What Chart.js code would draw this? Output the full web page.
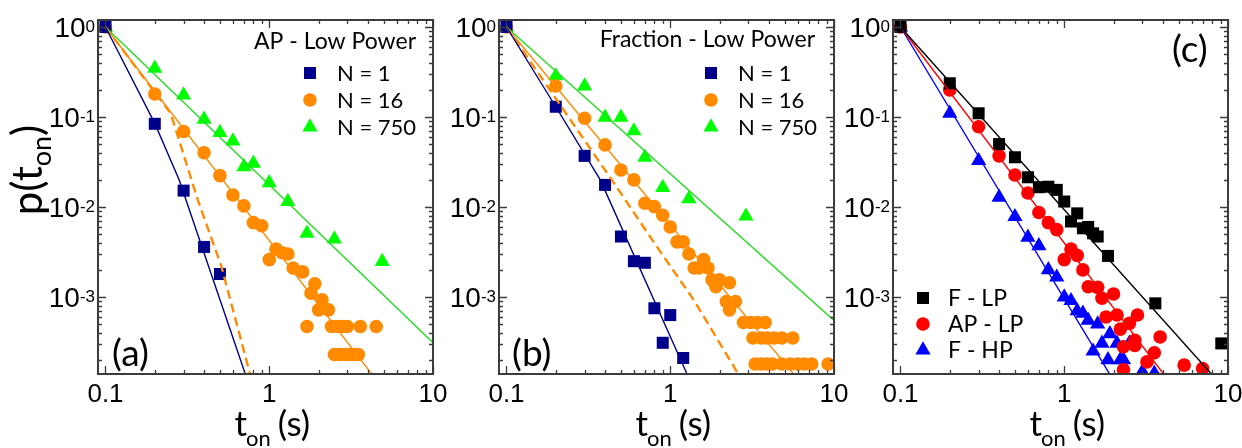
<!DOCTYPE html>
<html><head><meta charset="utf-8">
<script src="https://cdn.jsdelivr.net/npm/chart.js@4/dist/chart.umd.min.js"></script>
<style>
html,body{margin:0;padding:0;background:#fff;}
body{width:1242px;height:448px;position:relative;overflow:hidden;}
canvas{position:absolute;left:0;top:0;}
</style></head><body>
<canvas id="ca" width="1242" height="448"></canvas>
<canvas id="cb" width="1242" height="448"></canvas>
<canvas id="cc" width="1242" height="448"></canvas>
<script>
// ---------- tick labels ----------
const xTickValues = [0.1, 1, 10];
const xTickLabels = ['0.1', '1', '10'];
const yTickExps = [0, -1, -2, -3];

// ---------- Panel (a): AP - Low Power ----------
const tA_N1 = [0.1, 0.2, 0.3, 0.4, 0.5];
const pA_N1 = [1, 0.084, 0.0152, 0.0036, 0.0018];
const tA_N16 = [0.1, 0.2, 0.3, 0.4, 0.5, 0.6, 0.7, 0.8, 0.9, 1.0, 1.1, 1.2, 1.3, 1.4, 1.6, 1.7, 1.8, 1.9, 2.0, 2.1, 2.3,
  2.4, 2.6, 2.8, 3.0, 3.6, 4.5, 2.5, 2.7, 2.9, 3.1, 3.3, 3.5];
const pA_N16 = [1, 0.18, 0.069, 0.040, 0.0223, 0.0136, 0.0103, 0.0067, 0.0062, 0.0026, 0.0034, 0.0031, 0.0030, 0.0021, 0.0019, 0.00047, 0.0011, 0.0014, 0.00072, 0.00093, 0.00072,
  0.00047, 0.00047, 0.00047, 0.00047, 0.00047, 0.00047, 0.00023, 0.00023, 0.00023, 0.00023, 0.00023, 0.00023];
const tA_N750 = [0.1, 0.2, 0.3, 0.4, 0.5, 0.6, 0.7, 0.8, 1.0, 1.3, 1.7, 2.5, 4.9];
const pA_N750 = [1, 0.347, 0.175, 0.094, 0.067, 0.054, 0.028, 0.0306, 0.0186, 0.0115, 0.0051, 0.0044, 0.00247];
const tA_fitN1 = [0.1, 0.2, 0.282, 0.448, 0.71, 0.75];
const pA_fitN1 = [1, 0.085, 0.02, 0.00168, 0.000144, 0.000107];
const tA_fitN16 = [0.1, 4.5];
const pA_fitN16 = [1, 0.00012];
const tA_fitN750 = [0.1, 10];
const pA_fitN750 = [1, 0.00031];
const tA_dash = [0.1, 0.25, 0.366, 0.51, 0.76, 0.8];
const pA_dash = [1, 0.11, 0.012, 0.0022, 0.000144, 0.00009];

// ---------- Panel (b): Fraction - Low Power ----------
const tB_N1 = [0.1, 0.2, 0.3, 0.4, 0.5, 0.6, 0.7, 0.8, 0.9, 1.0, 1.2];
const pB_N1 = [1, 0.13, 0.037, 0.0176, 0.0047, 0.0025, 0.0024, 0.00075, 0.00031, 0.00063, 0.00021];
const tB_N16 = [0.1, 0.2, 0.3, 0.4, 0.5, 0.6, 0.7, 0.8, 0.9, 1.0, 1.1, 1.2, 1.3, 1.4, 1.5, 1.6, 1.7, 1.8, 1.9, 2.0, 2.2, 2.3, 2.3, 2.5,
  2.8, 3.1, 3.4, 3.8, 3.2, 3.6, 3.9, 4.3, 4.8, 5.6, 3.3, 3.6, 3.9, 4.2, 4.8, 5.4, 6.0, 6.6, 7.3, 9.2];
const pB_N16 = [1, 0.221, 0.097, 0.049, 0.0258, 0.020, 0.011, 0.0101, 0.0081, 0.0060, 0.0041, 0.0041, 0.0030, 0.0021, 0.0021, 0.0026, 0.0021, 0.00155, 0.0013, 0.00155, 0.00089, 0.00144, 0.00072, 0.00089,
  0.00052, 0.00052, 0.00052, 0.00052, 0.00035, 0.00035, 0.00035, 0.00035, 0.00035, 0.00035, 0.00018, 0.00018, 0.00018, 0.00018, 0.00018, 0.00018, 0.00018, 0.00018, 0.00018, 0.00018];
const tB_N750 = [0.1, 0.2, 0.3, 0.4, 0.5, 0.6, 0.7, 0.9, 1.3, 2.9];
const pB_N750 = [1, 0.286, 0.221, 0.099, 0.099, 0.070, 0.0357, 0.0164, 0.0123, 0.0079];
const tB_fitN1 = [0.1, 0.2, 0.374, 1.26, 1.35];
const pB_fitN1 = [1, 0.13, 0.02, 0.000142, 0.000107];
const tB_fitN16 = [0.1, 6.0];
const pB_fitN16 = [1, 0.000123];
const tB_fitN750 = [0.1, 10];
const pB_fitN750 = [1, 0.00055];
const tB_dash = [0.1, 0.44, 0.83, 1.39, 2.55, 2.7];
const pB_dash = [1, 0.02, 0.0036, 0.00093, 0.000148, 0.00011];

// ---------- Panel (c) ----------
const tC_FLP = [0.1, 0.2, 0.3, 0.4, 0.5, 0.6, 0.7, 0.8, 0.9, 1.0, 1.1, 1.2, 1.3, 1.4, 1.5, 1.6, 1.85, 3.6, 9.1];
const pC_FLP = [1, 0.237, 0.11, 0.05, 0.0357, 0.0214, 0.0166, 0.0168, 0.0155, 0.0115, 0.0069, 0.0085, 0.0058, 0.0060, 0.0051, 0.0047, 0.00286, 0.00085, 0.000305];
const tC_APLP = [0.1, 0.2, 0.3, 0.4, 0.5, 0.6, 0.7, 0.8, 0.9, 1.0, 1.1, 1.2, 1.3, 1.4, 1.6, 1.7, 2.0, 1.8, 2.1, 2.8, 2.5, 2.2, 2.7, 2.7, 3.85, 2.3, 3.55, 3.2, 2.3, 5.4, 7.0];
const pC_APLP = [1, 0.2, 0.078, 0.037, 0.0227, 0.0143, 0.0087, 0.0067, 0.0056, 0.0026, 0.0034, 0.0029, 0.0020, 0.0013, 0.00128, 0.00097, 0.00108, 0.0006, 0.00063, 0.00063, 0.00051, 0.00044, 0.00033, 0.00029, 0.00036, 0.00028, 0.00024, 0.00019, 0.000155, 0.000175, 0.00016];
const tC_FHP = [0.1, 0.2, 0.3, 0.4, 0.5, 0.6, 0.7, 0.8, 0.9, 1.0, 1.1, 1.2, 1.3, 1.4, 1.6, 1.9, 1.7, 2.1, 2.5, 1.5, 1.85, 2.2, 2.3, 3.0, 3.55];
const pC_FHP = [1, 0.11, 0.0327, 0.0128, 0.0078, 0.0046, 0.0037, 0.0020, 0.00166, 0.0010, 0.00091, 0.0007, 0.00066, 0.00055, 0.0005, 0.00039, 0.000305, 0.000305, 0.000305, 0.00025, 0.0002, 0.0002, 0.0002, 0.000148, 0.000142];
const tC_fitFLP = [0.1, 8.5];
const pC_fitFLP = [1, 0.000121];
const tC_fitAPLP = [0.1, 4.5];
const pC_fitAPLP = [1, 0.000108];
const tC_fitFHP = [0.1, 2.0];
const pC_fitFHP = [1, 0.000118];

// ---------- colours ----------
const NAVY = '#00008B', ORANGE = '#FF8A00', GREEN = '#00FF00', GREENLINE = '#22DD22';
const BLACK = '#000000', RED = '#FF0000', BLUE = '#0000FF';

// ---------- axis ranges ----------
const X_MIN = Math.pow(10, -1 - 7.5 / 164), X_MAX = 10;
const Y_MIN = Math.pow(10, -347 / 90), Y_MAX = Math.pow(10, 7 / 90);

const LABEL_FONT = 'Lato, "Open Sans", sans-serif';
const TICK_FONT = '"Liberation Sans", Arial, sans-serif';

const pts = (t, p) => t.map((v, i) => ({x: v, y: p[i]}));
function markers(t, p, style, color, r) {
  return {data: pts(t, p), pointStyle: style, pointRadius: r, pointHoverRadius: r,
    pointBackgroundColor: color, pointBorderColor: color, pointBorderWidth: 0, showLine: false, order: 2};
}
function fitLine(t, p, color, w, dash) {
  return {data: pts(t, p), showLine: true, pointRadius: 0, pointHoverRadius: 0, borderColor: color,
    borderWidth: w, borderDash: dash || [], order: 1, tension: 0, fill: false};
}

function drawMarker(ctx, style, x, y, r, color) {
  ctx.fillStyle = color;
  ctx.beginPath();
  if (style === 'rect') { const s = Math.SQRT1_2 * r; ctx.rect(x - s, y - s, 2 * s, 2 * s); }
  else if (style === 'circle') { ctx.arc(x, y, r, 0, Math.PI * 2); }
  else if (style === 'triangle') {
    let a = 0; ctx.moveTo(x + Math.sin(a) * r, y - Math.cos(a) * r);
    a += 2 * Math.PI / 3; ctx.lineTo(x + Math.sin(a) * r, y - Math.cos(a) * r);
    a += 2 * Math.PI / 3; ctx.lineTo(x + Math.sin(a) * r, y - Math.cos(a) * r);
    ctx.closePath();
  }
  ctx.fill();
}

function decorPlugin(cfg) {
  return {
    id: 'decor',
    afterDraw(chart) {
      const {ctx, chartArea: a, scales: {x, y}} = chart;
      ctx.save();
      // frame
      ctx.strokeStyle = '#3c3c3c'; ctx.lineWidth = 2;
      ctx.strokeRect(a.left, a.top, a.right - a.left, a.bottom - a.top);
      // ticks (inward, all four sides)
      ctx.lineWidth = 1.3; ctx.strokeStyle = '#3c3c3c';
      ctx.beginPath();
      for (let e = -2; e <= 1; e++) for (let m = 1; m < 10; m++) {
        const v = m * Math.pow(10, e);
        if (v < X_MIN * 1.001 || v > X_MAX * 1.0001) continue;
        const px = Math.round(x.getPixelForValue(v)) + 0.5, L = m === 1 ? 8 : 4;
        ctx.moveTo(px, a.bottom); ctx.lineTo(px, a.bottom - L);
        ctx.moveTo(px, a.top); ctx.lineTo(px, a.top + L);
      }
      for (let e = -4; e <= 0; e++) for (let m = 1; m < 10; m++) {
        const v = m * Math.pow(10, e);
        if (v < Y_MIN || v > Y_MAX) continue;
        const py = Math.round(y.getPixelForValue(v)) + 0.5, L = m === 1 ? 8 : 4;
        ctx.moveTo(a.left, py); ctx.lineTo(a.left + L, py);
        ctx.moveTo(a.right, py); ctx.lineTo(a.right - L, py);
      }
      ctx.stroke();
      // x tick labels
      ctx.fillStyle = '#000';
      ctx.font = '26px ' + TICK_FONT; ctx.textAlign = 'center'; ctx.textBaseline = 'alphabetic';
      xTickValues.forEach((v, i) => ctx.fillText(xTickLabels[i], x.getPixelForValue(v), a.bottom + 28));
      // y tick labels 10^e
      yTickExps.forEach(e => {
        const py = y.getPixelForValue(Math.pow(10, e));
        const ex = String(e);
        ctx.font = '17px ' + TICK_FONT; const w2 = ctx.measureText(ex).width;
        ctx.font = '28px ' + TICK_FONT; const w1 = ctx.measureText('10').width;
        const R = a.left - 3;
        ctx.textAlign = 'left';
        ctx.fillText('10', R - w2 - w1, py + 10);
        ctx.font = '17px ' + TICK_FONT;
        ctx.fillText(ex, R - w2, py + 4.5);
      });
      // x title t_on (s)
      const big = '35px ' + LABEL_FONT, small = '22px ' + LABEL_FONT;
      ctx.font = big; const wt = ctx.measureText('t').width, ws = ctx.measureText('(s)').width;
      ctx.font = small; const wo = ctx.measureText('on').width;
      const gap = 6;
      let sx = x.getPixelForValue(1) + 3 - (wt + wo + gap + ws) / 2;
      const by = a.bottom + 62;
      ctx.textAlign = 'left';
      ctx.font = big; ctx.fillText('t', sx, by);
      ctx.font = small; ctx.fillText('on', sx + wt - 1, by + 10);
      ctx.font = big; ctx.fillText('(s)', sx + wt + wo + gap, by);
      // y title
      if (cfg.yTitle) {
        ctx.save();
        ctx.translate(30, 170); ctx.rotate(-Math.PI / 2);
        const yb = '42px ' + LABEL_FONT, ys = '27px ' + LABEL_FONT;
        ctx.font = yb; const w1 = ctx.measureText('p(t').width, w3 = ctx.measureText(')').width;
        ctx.font = ys; const w2 = ctx.measureText('on').width;
        let s = -(w1 + w2 + w3) / 2;
        ctx.font = yb; ctx.fillText('p(t', s, 12);
        ctx.font = ys; ctx.fillText('on', s + w1, 21);
        ctx.font = yb; ctx.fillText(')', s + w1 + w2, 12);
        ctx.restore();
      }
      // panel label
      ctx.font = '37px ' + LABEL_FONT; ctx.textAlign = 'left';
      ctx.fillText(cfg.label, cfg.labelX, cfg.labelY);
      // legend
      const L = cfg.legend;
      if (L.title) {
        ctx.font = '23px ' + LABEL_FONT; ctx.textAlign = 'right'; ctx.textBaseline = 'middle';
        ctx.fillText(L.title, L.titleRight, L.titleY);
      }
      ctx.font = L.font + 'px ' + LABEL_FONT; ctx.textAlign = 'left'; ctx.textBaseline = 'middle';
      L.items.forEach((it, i) => {
        const yy = L.rows[i];
        drawMarker(ctx, it.style, L.markerX, yy, it.r, it.color);
        ctx.fillStyle = '#000';
        ctx.fillText(it.text, L.textX, yy + 1);
      });
      ctx.restore();
    }
  };
}

function makeChart(id, areaLeft, areaRight, datasets, cfg) {
  const yW = 40;
  return new Chart(document.getElementById(id), {
    type: 'scatter',
    data: {datasets},
    options: {
      responsive: false, animation: false, events: [], devicePixelRatio: 1,
      layout: {padding: {top: 20, left: areaLeft - yW, right: 1242 - areaRight, bottom: 0}},
      plugins: {legend: {display: false}, tooltip: {enabled: false}},
      scales: {
        x: {type: 'logarithmic', min: X_MIN, max: X_MAX, grid: {display: false}, border: {display: false},
            ticks: {display: false}, afterFit(s) { s.height = 74; }},
        y: {type: 'logarithmic', min: Y_MIN, max: Y_MAX, grid: {display: false}, border: {display: false},
            ticks: {display: false}, afterFit(s) { s.width = yW; }}
      }
    },
    plugins: [decorPlugin(cfg)]
  });
}

const R_SQ = 8.5, R_CI = 6.8, R_TR = 8.8;
const DASH = [9, 5];

makeChart('ca', 98, 433, [
  markers(tA_N1, pA_N1, 'rect', NAVY, R_SQ),
  markers(tA_N16, pA_N16, 'circle', ORANGE, R_CI),
  markers(tA_N750, pA_N750, 'triangle', GREEN, R_TR),
  fitLine(tA_fitN1, pA_fitN1, NAVY, 1.4),
  fitLine(tA_fitN16, pA_fitN16, ORANGE, 1.4),
  fitLine(tA_fitN750, pA_fitN750, GREENLINE, 1.4),
  fitLine(tA_dash, pA_dash, ORANGE, 2.4, DASH)
], {yTitle: true, label: '(a)', labelX: 112, labelY: 366,
  legend: {title: 'AP - Low Power', titleRight: 416, titleY: 42, font: 22, markerX: 310, textX: 337, rows: [73, 100, 127],
    items: [{style: 'rect', r: R_SQ, color: NAVY, text: 'N = 1'}, {style: 'circle', r: R_CI, color: ORANGE, text: 'N = 16'},
      {style: 'triangle', r: R_TR, color: GREEN, text: 'N = 750'}]}});

makeChart('cb', 499, 834, [
  markers(tB_N1, pB_N1, 'rect', NAVY, R_SQ),
  markers(tB_N16, pB_N16, 'circle', ORANGE, R_CI),
  markers(tB_N750, pB_N750, 'triangle', GREEN, R_TR),
  fitLine(tB_fitN1, pB_fitN1, NAVY, 1.4),
  fitLine(tB_fitN16, pB_fitN16, ORANGE, 1.4),
  fitLine(tB_fitN750, pB_fitN750, GREENLINE, 1.4),
  fitLine(tB_dash, pB_dash, ORANGE, 2.4, DASH)
], {yTitle: false, label: '(b)', labelX: 512, labelY: 366,
  legend: {title: 'Fraction - Low Power', titleRight: 815, titleY: 40, font: 22, markerX: 711, textX: 738, rows: [73, 100, 127],
    items: [{style: 'rect', r: R_SQ, color: NAVY, text: 'N = 1'}, {style: 'circle', r: R_CI, color: ORANGE, text: 'N = 16'},
      {style: 'triangle', r: R_TR, color: GREEN, text: 'N = 750'}]}});

makeChart('cc', 893, 1228, [
  markers(tC_FLP, pC_FLP, 'rect', BLACK, R_SQ),
  markers(tC_APLP, pC_APLP, 'circle', RED, R_CI),
  markers(tC_FHP, pC_FHP, 'triangle', BLUE, R_TR),
  fitLine(tC_fitFLP, pC_fitFLP, BLACK, 1.4),
  fitLine(tC_fitAPLP, pC_fitAPLP, RED, 1.4),
  fitLine(tC_fitFHP, pC_fitFHP, BLUE, 1.4)
], {yTitle: false, label: '(c)', labelX: 1172, labelY: 62,
  legend: {title: '', font: 23, markerX: 923, textX: 948, rows: [298, 324, 350],
    items: [{style: 'rect', r: R_SQ, color: BLACK, text: 'F - LP'}, {style: 'circle', r: R_CI, color: RED, text: 'AP - LP'},
      {style: 'triangle', r: R_TR, color: BLUE, text: 'F - HP'}]}});
</script>
</body></html>
